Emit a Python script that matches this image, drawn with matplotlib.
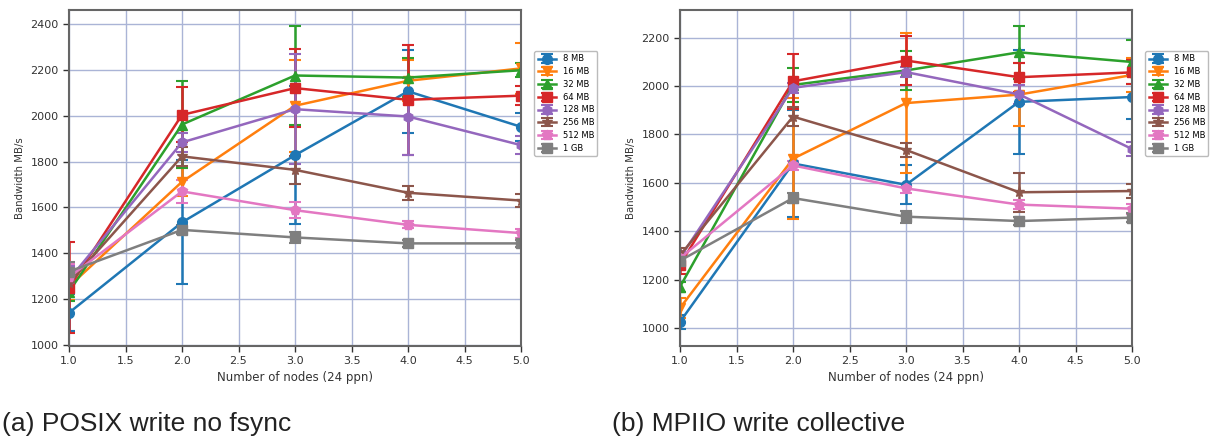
import matplotlib
matplotlib.use("Agg")
import matplotlib.pyplot as plt

plt.rcParams['font.family'] = ['DejaVu Sans']

nodes = [1, 2, 3, 4, 5]
labels = ["8 MB", "16 MB", "32 MB", "64 MB", "128 MB", "256 MB", "512 MB", "1 GB"]
markers = ["o", "v", "^", "s", "h", "*", "p", "s"]
colors = ["#1f77b4", "#ff7f0e", "#2ca02c", "#d62728", "#9467bd", "#8c564b", "#e377c2", "#7f7f7f"]

# (a) POSIX write no fsync
posix_8mb = [1140, 1535, 1828, 2107, 1952]
posix_16mb = [1255, 1712, 2044, 2153, 2207]
posix_32mb = [1232, 1962, 2176, 2167, 2199]
posix_64mb = [1250, 2004, 2121, 2070, 2088]
posix_128mb = [1285, 1884, 2029, 1997, 1872]
posix_256mb = [1270, 1823, 1764, 1664, 1630]
posix_512mb = [1295, 1670, 1588, 1524, 1488]
posix_1gb = [1320, 1502, 1469, 1443, 1443]
posix_err_8mb = [80, 270, 300, 180, 60]
posix_err_16mb = [60, 60, 200, 90, 110]
posix_err_32mb = [40, 190, 215, 85, 30]
posix_err_64mb = [200, 120, 170, 240, 40]
posix_err_128mb = [60, 40, 240, 170, 40]
posix_err_256mb = [40, 40, 60, 30, 30]
posix_err_512mb = [60, 50, 35, 15, 20]
posix_err_1gb = [40, 20, 25, 15, 15]

# (b) MPIIO write collective
mpiio_8mb = [1025, 1680, 1592, 1935, 1955]
mpiio_16mb = [1082, 1700, 1930, 1965, 2046]
mpiio_32mb = [1170, 2005, 2065, 2140, 2100]
mpiio_64mb = [1262, 2020, 2106, 2037, 2057]
mpiio_128mb = [1290, 1993, 2058, 1966, 1740]
mpiio_256mb = [1300, 1874, 1736, 1561, 1566]
mpiio_512mb = [1288, 1672, 1577, 1510, 1493]
mpiio_1gb = [1278, 1537, 1460, 1442, 1456]
mpiio_err_8mb = [30, 220, 80, 215, 90]
mpiio_err_16mb = [40, 250, 290, 130, 70]
mpiio_err_32mb = [20, 70, 80, 110, 90]
mpiio_err_64mb = [40, 115, 100, 60, 50]
mpiio_err_128mb = [30, 20, 20, 40, 30]
mpiio_err_256mb = [30, 40, 30, 80, 30]
mpiio_err_512mb = [20, 20, 20, 20, 20]
mpiio_err_1gb = [20, 20, 25, 15, 20]

posix_series = [posix_8mb, posix_16mb, posix_32mb, posix_64mb, posix_128mb,
                posix_256mb, posix_512mb, posix_1gb]
posix_errs = [posix_err_8mb, posix_err_16mb, posix_err_32mb, posix_err_64mb,
              posix_err_128mb, posix_err_256mb, posix_err_512mb, posix_err_1gb]
mpiio_series = [mpiio_8mb, mpiio_16mb, mpiio_32mb, mpiio_64mb, mpiio_128mb,
                mpiio_256mb, mpiio_512mb, mpiio_1gb]
mpiio_errs = [mpiio_err_8mb, mpiio_err_16mb, mpiio_err_32mb, mpiio_err_64mb,
              mpiio_err_128mb, mpiio_err_256mb, mpiio_err_512mb, mpiio_err_1gb]

W, H = 1212, 437
fig = plt.figure(figsize=(W / 100, H / 100), dpi=100)


def px_axes(x0, x1, y0, y1):
    return fig.add_axes([x0 / W, 1 - y1 / H, (x1 - x0) / W, (y1 - y0) / H])


def draw(ax, series, errs, ylim, yticks):
    for vals, err, lab, mk, c in zip(series, errs, labels, markers, colors):
        ax.errorbar(nodes, vals, yerr=err, label=lab, marker=mk, color=c,
                    lw=1.8, ms=7 if mk != "*" else 8, capsize=4, elinewidth=1.8,
                    capthick=1.5)
    ax.set_xlim(1.0, 5.0)
    ax.set_ylim(*ylim)
    ax.set_yticks(yticks)
    ax.set_xticks([1.0, 1.5, 2.0, 2.5, 3.0, 3.5, 4.0, 4.5, 5.0])
    ax.grid(True, color="#aab4d6", lw=1.0)
    ax.set_axisbelow(True)
    for s in ax.spines.values():
        s.set_color("#666666")
        s.set_linewidth(1.5)
    ax.tick_params(labelsize=8, colors="#333333", length=4, width=1)
    ax.set_xlabel("Number of nodes (24 ppn)", fontsize=8.5, color="#333333", labelpad=3)
    ax.set_ylabel("Bandwidth MB/s", fontsize=7.3, color="#333333", labelpad=4)
    leg = ax.legend(loc="upper left", bbox_to_anchor=(1.02, 0.89), fontsize=6,
                    frameon=True, fancybox=True, framealpha=1, edgecolor="#bbbbbb",
                    handlelength=2.2, labelspacing=0.45, borderpad=0.4)
    return leg


ax1 = px_axes(69, 521, 10, 346)
draw(ax1, posix_series, posix_errs, (995, 2462), [1000, 1200, 1400, 1600, 1800, 2000, 2200, 2400])

ax2 = px_axes(680, 1132, 10, 346)
draw(ax2, mpiio_series, mpiio_errs, (925, 2315), [1000, 1200, 1400, 1600, 1800, 2000, 2200])

fig.text(2 / W, 1 - 431 / H, "(a) POSIX write no fsync", fontsize=19,
         family="Liberation Sans", color="#222222", va="baseline", ha="left")
fig.text(612 / W, 1 - 431 / H, "(b) MPIIO write collective", fontsize=19,
         family="Liberation Sans", color="#222222", va="baseline", ha="left")

fig.savefig("out.png", dpi=100)
